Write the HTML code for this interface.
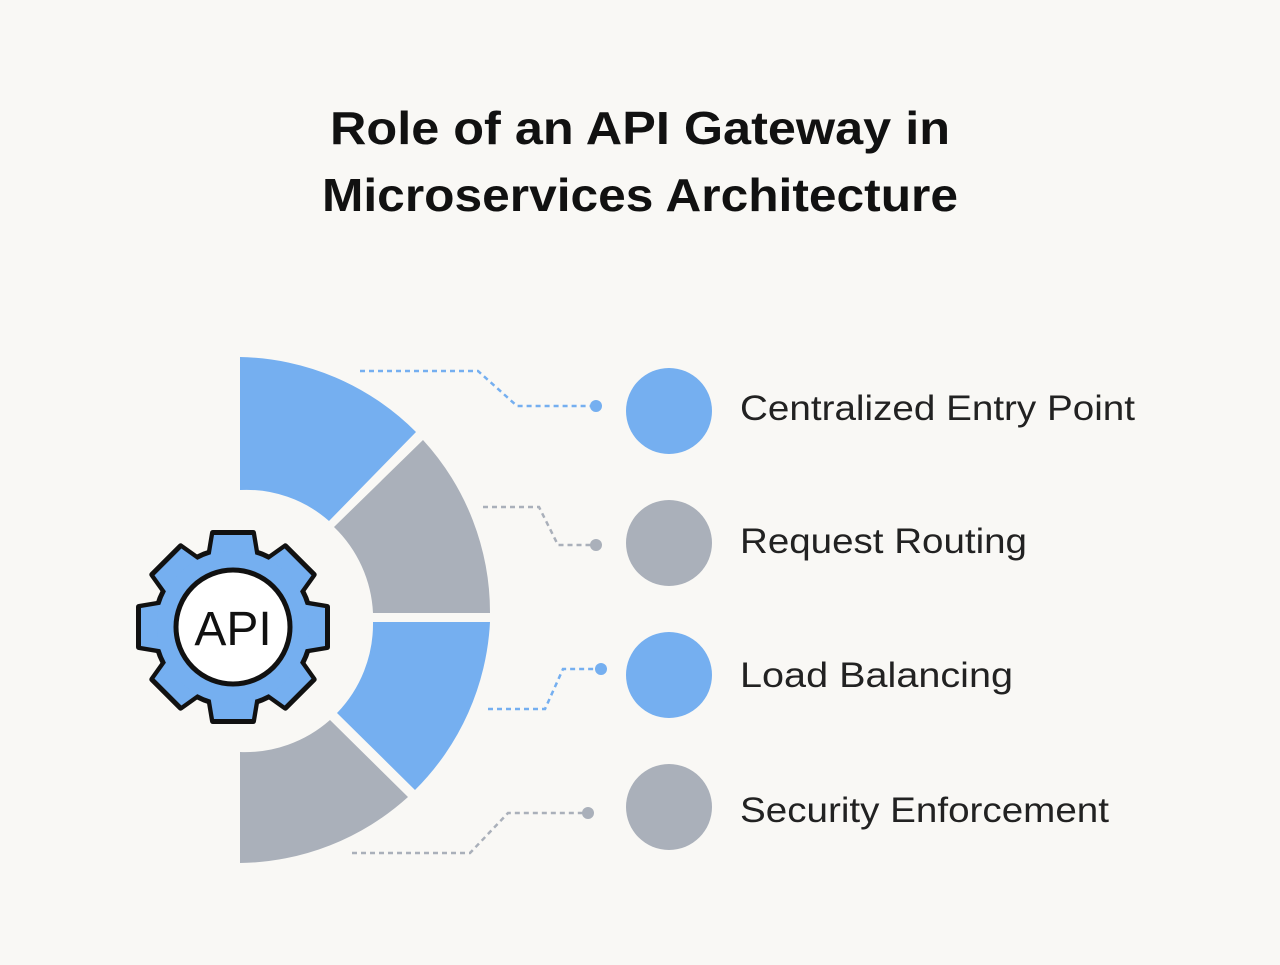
<!DOCTYPE html>
<html><head><style>
body{margin:0;background:#f9f8f5;width:1280px;height:960px;overflow:hidden;font-family:"Liberation Sans",sans-serif}
</style></head><body>
<svg width="1280" height="960" xmlns="http://www.w3.org/2000/svg">
<rect width="1280" height="960" fill="#f9f8f5"/>
<text x="330" y="144" textLength="620" lengthAdjust="spacingAndGlyphs" font-family="Liberation Sans, sans-serif" font-weight="bold" font-size="46" fill="#111">Role of an API Gateway in</text>
<text x="322" y="211" textLength="636" lengthAdjust="spacingAndGlyphs" font-family="Liberation Sans, sans-serif" font-weight="bold" font-size="46" fill="#111">Microservices Architecture</text>
<g>
<path d="M240,357 A255,255 0 0 1 416,432 L329,521 A125,125 0 0 0 240,490 Z" fill="#75aff0"/>
<path d="M423,440 A255,255 0 0 1 490,613 L373,613 A128,128 0 0 0 334,527 Z" fill="#aab0ba"/>
<path d="M490,622 A255,255 0 0 1 415,790 L337,713 A128,128 0 0 0 373,622 Z" fill="#75aff0"/>
<path d="M408,797 A255,255 0 0 1 240,863 L240,752 A128,128 0 0 0 330,720 Z" fill="#aab0ba"/>
</g>
<g fill="none" stroke-width="2.5" stroke-dasharray="5,4">
<polyline points="360,371 478,371 517,406 596,406" stroke="#75aff0"/>
<polyline points="483,507 539,507 558,545 596,545" stroke="#aab0ba"/>
<polyline points="488,709 545,709 563,669 601,669" stroke="#75aff0"/>
<polyline points="352,853 470,853 508,813 588,813" stroke="#aab0ba"/>
</g>
<circle cx="596" cy="406" r="6" fill="#75aff0"/>
<circle cx="596" cy="545" r="6" fill="#aab0ba"/>
<circle cx="601" cy="669" r="6" fill="#75aff0"/>
<circle cx="588" cy="813" r="6" fill="#aab0ba"/>
<g transform="translate(233,627)">
<g stroke="#111" stroke-width="6" stroke-linejoin="round" fill="#75aff0">
<path id="t" d="M-20,-94 L20,-94 L24,-70 L-24,-70 Z"/>
<use href="#t" transform="rotate(45)"/><use href="#t" transform="rotate(90)"/><use href="#t" transform="rotate(135)"/>
<use href="#t" transform="rotate(180)"/><use href="#t" transform="rotate(225)"/><use href="#t" transform="rotate(270)"/><use href="#t" transform="rotate(315)"/>
<circle r="78"/>
</g>
<g fill="#75aff0">
<path id="t2" d="M-19,-92 L19,-92 L23,-68 L-23,-68 Z"/>
<use href="#t2" transform="rotate(45)"/><use href="#t2" transform="rotate(90)"/><use href="#t2" transform="rotate(135)"/>
<use href="#t2" transform="rotate(180)"/><use href="#t2" transform="rotate(225)"/><use href="#t2" transform="rotate(270)"/><use href="#t2" transform="rotate(315)"/>
<circle r="76"/>
</g>
<circle r="57" fill="#fff" stroke="#111" stroke-width="5"/>
<text x="0" y="18" text-anchor="middle" font-family="Liberation Sans, sans-serif" font-size="48" fill="#111">API</text>
</g>
<circle cx="669" cy="411" r="43" fill="#75aff0"/>
<circle cx="669" cy="543" r="43" fill="#aab0ba"/>
<circle cx="669" cy="675" r="43" fill="#75aff0"/>
<circle cx="669" cy="807" r="43" fill="#aab0ba"/>
<g font-family="Liberation Sans, sans-serif" font-size="35" fill="#222" lengthAdjust="spacingAndGlyphs">
<text x="740" y="420" textLength="395" lengthAdjust="spacingAndGlyphs">Centralized Entry Point</text>
<text x="740" y="553" textLength="287" lengthAdjust="spacingAndGlyphs">Request Routing</text>
<text x="740" y="687" textLength="273" lengthAdjust="spacingAndGlyphs">Load Balancing</text>
<text x="740" y="822" textLength="369" lengthAdjust="spacingAndGlyphs">Security Enforcement</text>
</g>
</svg>
</body></html>
